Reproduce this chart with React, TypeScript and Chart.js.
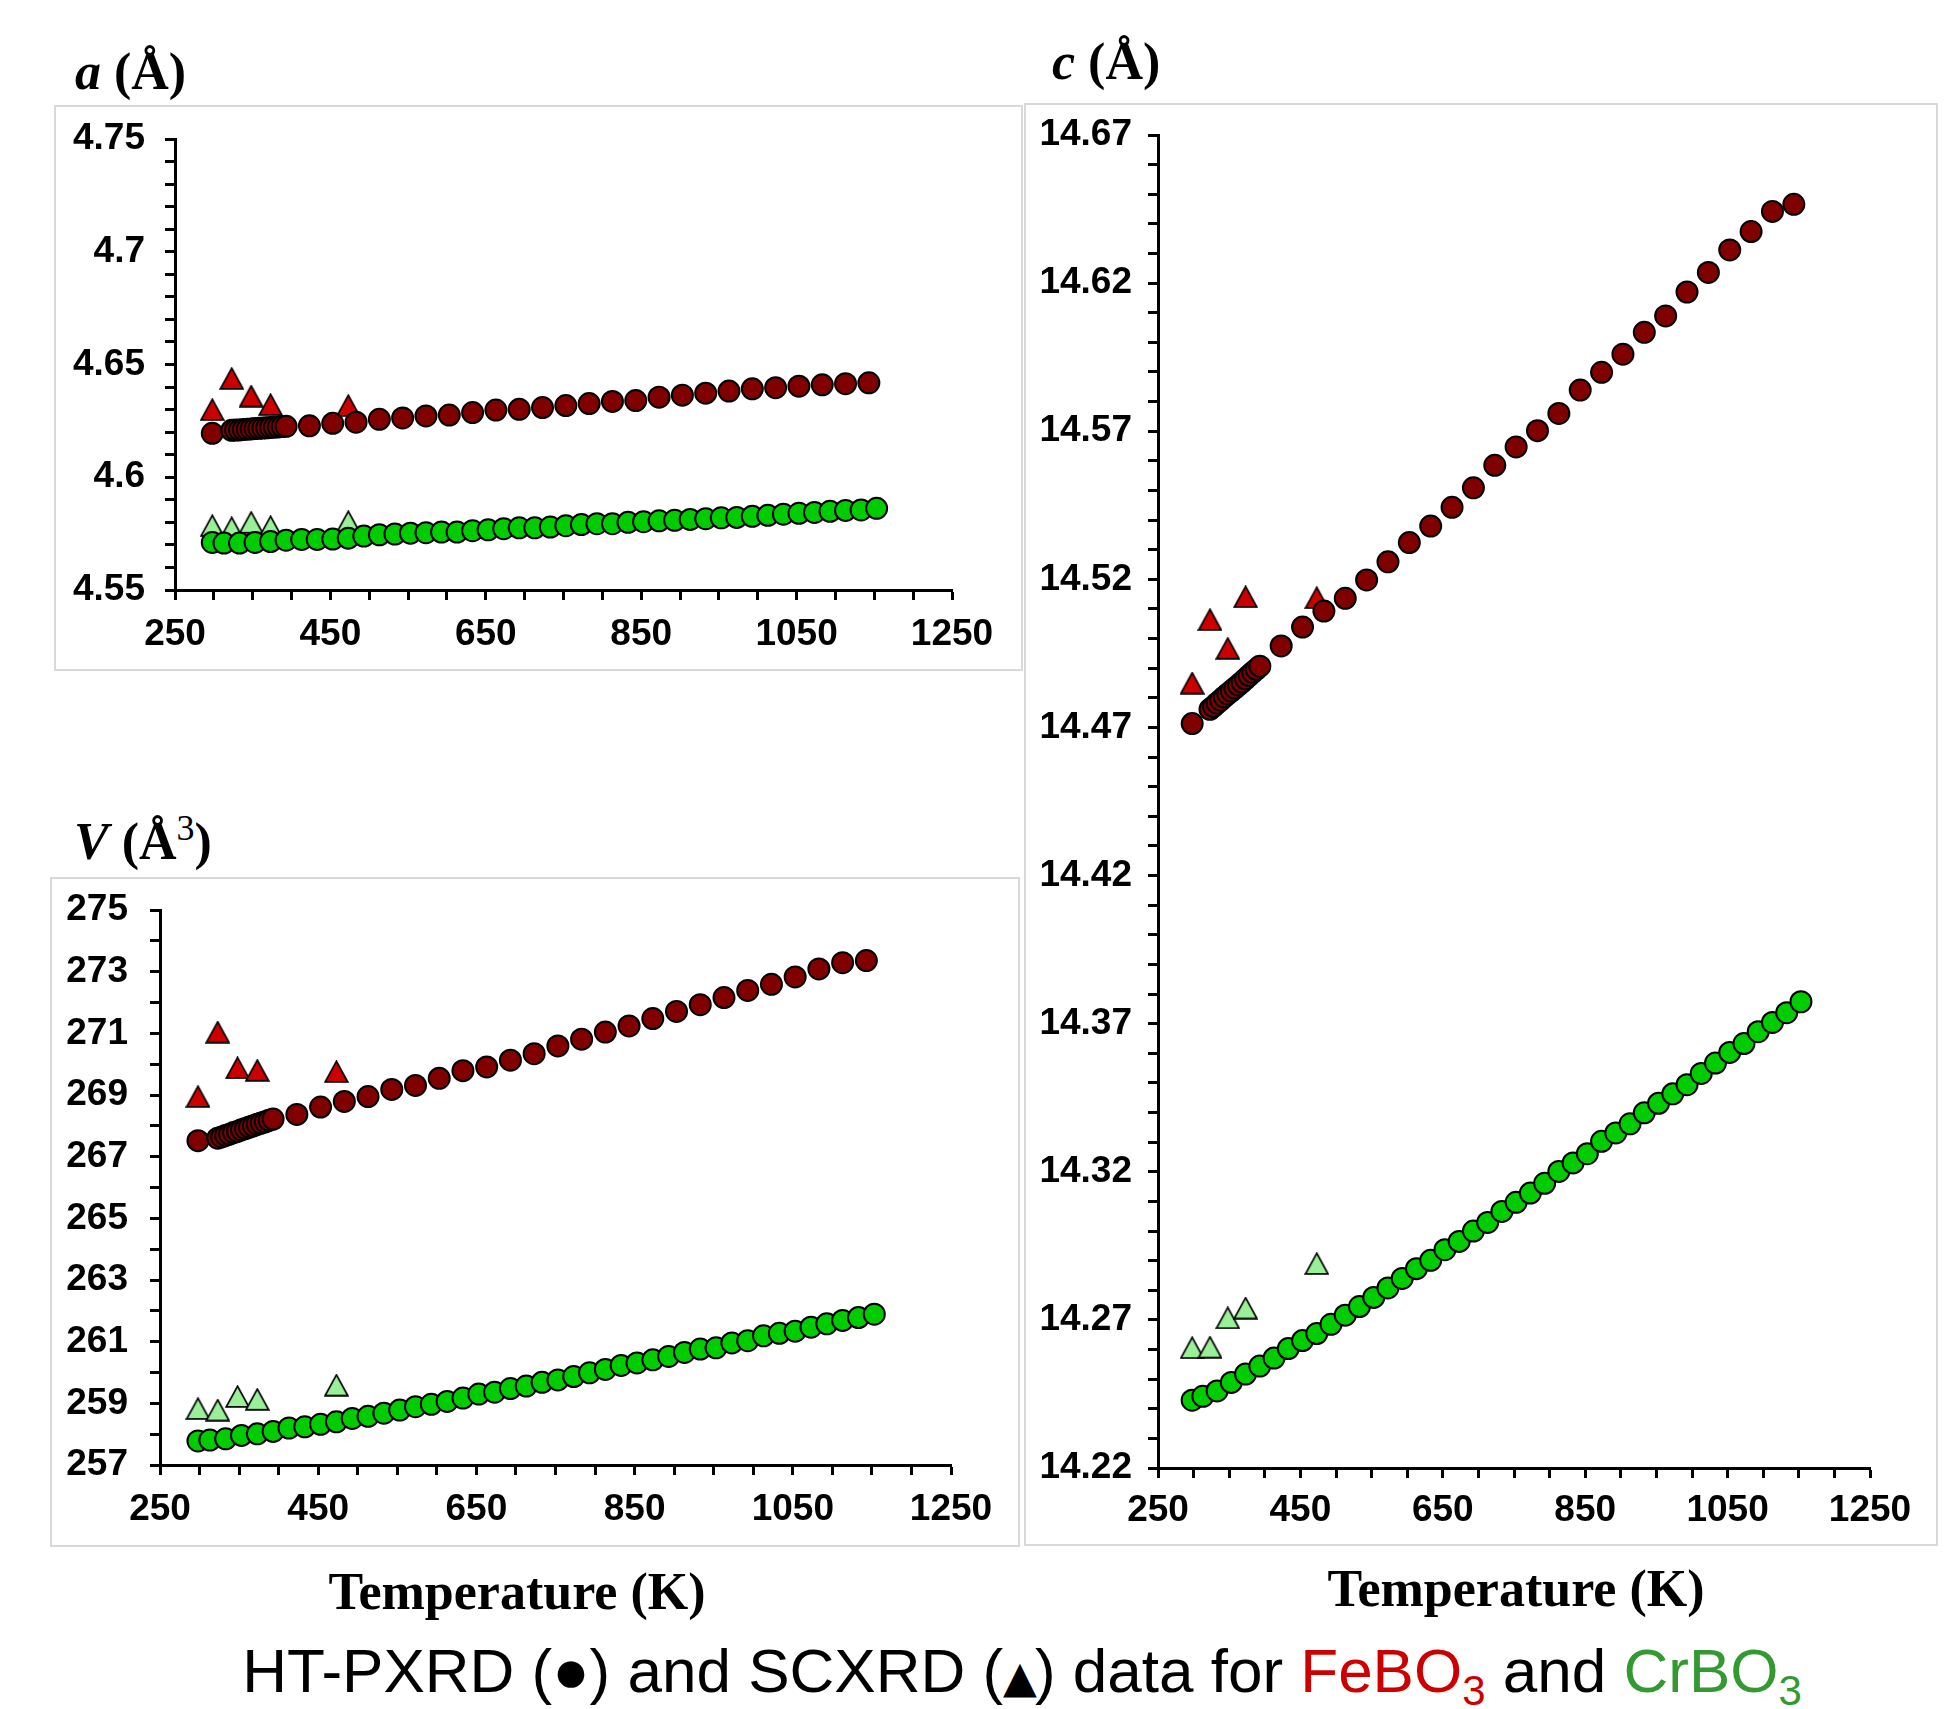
import React, { useEffect, useRef } from 'react';
import { Chart, registerables } from 'chart.js';
Chart.register(...registerables);

// ---------- DATA ----------
// HT-PXRD temperatures (K)
const T_FE = [298, 323, 328, 333, 338, 343, 348, 353, 358, 363, 368, 373, 378, 383, 388, 393,
  423, 453, 483, 513, 543, 573, 603, 633, 663, 693, 723, 753, 783, 813, 843, 873, 903, 933, 963, 993,
  1023, 1053, 1083, 1113, 1143];
const T_CR = [298, 313, 333, 353, 373, 393, 413, 433, 453, 473, 493, 513, 533, 553, 573, 593, 613, 633,
  653, 673, 693, 713, 733, 753, 773, 793, 813, 833, 853, 873, 893, 913, 933, 953, 973, 993, 1013, 1033,
  1053, 1073, 1093, 1113, 1133, 1153];
// SCXRD temperatures (K)
const T_SC = [298, 323, 348, 373, 473];

// a (Å)
const A_FE = [4.6195, 4.6208, 4.6209, 4.6210, 4.6212, 4.6213, 4.6214, 4.6216, 4.6217, 4.6218, 4.6219,
  4.6221, 4.6222, 4.6223, 4.6225, 4.6226, 4.6228, 4.6239, 4.6244, 4.6257, 4.6263, 4.6272, 4.6276, 4.6287,
  4.6298, 4.6301, 4.6309, 4.6318, 4.6327, 4.6336, 4.6340, 4.6355, 4.6364, 4.6373, 4.6382, 4.6392, 4.6397,
  4.6404, 4.6410, 4.6415, 4.6419];
const A_CR = [4.5711, 4.5708, 4.5708, 4.5711, 4.5715, 4.5721, 4.5724, 4.5724, 4.5726, 4.5730, 4.5739,
  4.5745, 4.5748, 4.5752, 4.5754, 4.5757, 4.5757, 4.5763, 4.5767, 4.5772, 4.5776, 4.5776, 4.5779, 4.5785,
  4.5790, 4.5794, 4.5794, 4.5800, 4.5803, 4.5807, 4.5809, 4.5813, 4.5816, 4.5820, 4.5822, 4.5827, 4.5831,
  4.5836, 4.5840, 4.5844, 4.5849, 4.5853, 4.5855, 4.5862];
const A_FE_SC = [4.6300, 4.6438, 4.6360, 4.6322, 4.6318];
const A_CR_SC = [4.5785, 4.5776, 4.5800, 4.5781, 4.5803];

// V (Å3)
const V_FE = [267.52, 267.60, 267.64, 267.69, 267.73, 267.78, 267.82, 267.87, 267.91, 267.96, 268.00,
  268.05, 268.09, 268.13, 268.18, 268.22, 268.37, 268.61, 268.79, 268.95, 269.18, 269.31, 269.54, 269.79,
  269.91, 270.13, 270.34, 270.59, 270.81, 271.04, 271.24, 271.48, 271.71, 271.93, 272.16, 272.39, 272.59,
  272.83, 273.09, 273.29, 273.36];
const V_CR = [257.78, 257.81, 257.85, 257.96, 258.01, 258.09, 258.20, 258.24, 258.32, 258.40, 258.51,
  258.58, 258.68, 258.78, 258.89, 258.97, 259.06, 259.17, 259.30, 259.36, 259.48, 259.56, 259.68, 259.76,
  259.87, 259.99, 260.10, 260.23, 260.31, 260.41, 260.52, 260.65, 260.76, 260.80, 260.96, 261.03, 261.19,
  261.27, 261.34, 261.47, 261.58, 261.69, 261.78, 261.89];
const V_FE_SC = [268.95, 271.04, 269.88, 269.80, 269.76];
const V_CR_SC = [258.83, 258.78, 259.22, 259.13, 259.59];

// c (Å)
const C_FE = [14.4713, 14.4761, 14.4771, 14.4782, 14.4792, 14.4803, 14.4813, 14.4823, 14.4833, 14.4843,
  14.4853, 14.4864, 14.4875, 14.4886, 14.4896, 14.4907, 14.4975, 14.5039, 14.5093, 14.5136, 14.5198,
  14.5259, 14.5324, 14.5380, 14.5443, 14.5509, 14.5585, 14.5647, 14.5702, 14.5760, 14.5839, 14.5899,
  14.5960, 14.6034, 14.6089, 14.6170, 14.6236, 14.6312, 14.6374, 14.6442, 14.6466];
const C_CR = [14.2429, 14.2442, 14.2460, 14.2489, 14.2517, 14.2544, 14.2571, 14.2603, 14.2630, 14.2654,
  14.2685, 14.2716, 14.2745, 14.2776, 14.2808, 14.2840, 14.2873, 14.2901, 14.2937, 14.2965, 14.3000,
  14.3029, 14.3066, 14.3097, 14.3128, 14.3161, 14.3201, 14.3230, 14.3261, 14.3303, 14.3331, 14.3362,
  14.3399, 14.3431, 14.3463, 14.3494, 14.3532, 14.3567, 14.3603, 14.3633, 14.3673, 14.3704, 14.3737,
  14.3774];
const C_FE_SC = [14.4850, 14.5064, 14.4967, 14.5141, 14.5138];
const C_CR_SC = [14.2606, 14.2608, 14.2707, 14.2740, 14.2890];

// tick labels
const X_LABELS = [250, 450, 650, 850, 1050, 1250];
const A_LABELS = [4.55, 4.6, 4.65, 4.7, 4.75];
const V_LABELS = [257, 259, 261, 263, 265, 267, 269, 271, 273, 275];
const C_LABELS = [14.22, 14.27, 14.32, 14.37, 14.42, 14.47, 14.52, 14.57, 14.62, 14.67];

// ---------- STYLE ----------
const FE_CIRCLE = '#800000';
const FE_TRI = '#cc0000';
const CR_CIRCLE = '#00cc00';
const CR_TRI = '#99f099';
const TICK_FONT = '"Liberation Sans", Arial, sans-serif';
const SERIF = '"Liberation Serif", "Times New Roman", serif';

function range(min: number, max: number, step: number): number[] {
  const n = Math.round((max - min) / step);
  const out: number[] = [];
  for (let i = 0; i <= n; i++) out.push(+(min + i * step).toFixed(4));
  return out;
}

function triangleImage(fill: string): HTMLCanvasElement {
  const c = document.createElement('canvas');
  c.width = 25;
  c.height = 23;
  const ctx = c.getContext('2d')!;
  ctx.beginPath();
  ctx.moveTo(12.5, 1.2);
  ctx.lineTo(23.8, 21.8);
  ctx.lineTo(1.2, 21.8);
  ctx.closePath();
  ctx.fillStyle = fill;
  ctx.fill();
  ctx.lineWidth = 1.7;
  ctx.strokeStyle = '#000';
  ctx.lineJoin = 'miter';
  ctx.stroke();
  return c;
}

type PanelProps = {
  left: number; top: number; width: number; height: number;
  area: { l: number; r: number; t: number; b: number };
  yMin: number; yMax: number; yStep: number; yLabels: number[];
  yLabelPad: number; xLabelPad: number;
  fe: number[]; cr: number[]; feSc: number[]; crSc: number[];
  fmt: (v: number) => string;
};

function Panel(p: PanelProps) {
  const ref = useRef<HTMLCanvasElement>(null);
  useEffect(() => {
    const canvas = ref.current!;
    const xTicks = range(250, 1250, 50);
    const yTicks = range(p.yMin, p.yMax, p.yStep);
    const triFe = triangleImage(FE_TRI);
    const triCr = triangleImage(CR_TRI);
    const pts = (xs: number[], ys: number[]) => xs.map((x, i) => ({ x, y: ys[i] }));
    const circle = (color: string) => ({
      pointStyle: 'circle' as const, pointRadius: 10.5, pointBackgroundColor: color,
      pointBorderColor: '#000', pointBorderWidth: 2, showLine: false,
    });
    const chart = new Chart(canvas, {
      type: 'scatter',
      data: {
        datasets: [
          { data: pts(T_FE, p.fe), ...circle(FE_CIRCLE) },
          { data: pts(T_CR, p.cr), ...circle(CR_CIRCLE) },
          { data: pts(T_SC, p.feSc), pointStyle: triFe as any, pointRadius: 11, showLine: false },
          { data: pts(T_SC, p.crSc), pointStyle: triCr as any, pointRadius: 11, showLine: false },
        ],
      },
      options: {
        animation: false,
        responsive: false,
        events: [],
        layout: { padding: { left: 0, top: p.area.t, right: p.width - p.area.r, bottom: 0 } },
        plugins: { legend: { display: false }, tooltip: { enabled: false }, title: { display: false } },
        scales: {
          x: {
            type: 'linear', min: 250, max: 1250,
            afterBuildTicks: (axis: any) => { axis.ticks = xTicks.map((v) => ({ value: v })); },
            afterFit: (s: any) => { s.height = p.height - p.area.b; s.paddingLeft = 0; s.paddingRight = 0; },
            border: { display: true, color: '#000', width: 3 },
            grid: { display: true, drawOnChartArea: false, drawTicks: true, tickLength: 10, tickColor: '#000', tickWidth: 3 },
            ticks: {
              autoSkip: false, maxRotation: 0, minRotation: 0, padding: p.xLabelPad, color: '#000',
              font: { family: TICK_FONT, size: 37, weight: 'bold' },
              callback: (v: any) => (X_LABELS.some((l) => Math.abs(l - v) < 1e-6) ? String(v) : ''),
            },
          },
          y: {
            type: 'linear', min: p.yMin, max: p.yMax,
            afterBuildTicks: (axis: any) => { axis.ticks = yTicks.map((v) => ({ value: v })); },
            afterFit: (s: any) => { s.width = p.area.l; s.paddingTop = 0; s.paddingBottom = 0; },
            border: { display: true, color: '#000', width: 3 },
            grid: { display: true, drawOnChartArea: false, drawTicks: true, tickLength: 10, tickColor: '#000', tickWidth: 3 },
            ticks: {
              autoSkip: false, padding: p.yLabelPad, color: '#000',
              font: { family: TICK_FONT, size: 37, weight: 'bold' },
              callback: (v: any) => {
                const l = p.yLabels.find((q) => Math.abs(q - v) < 1e-6);
                return l === undefined ? '' : p.fmt(l);
              },
            },
          },
        },
      } as any,
    });
    return () => chart.destroy();
  }, []);
  return (
    <>
      <div style={{
        position: 'absolute', left: p.left, top: p.top, width: p.width, height: p.height,
        boxSizing: 'border-box', border: '2px solid #d9d9d9', background: '#fff',
      }} />
      <canvas ref={ref} width={p.width} height={p.height}
        style={{ position: 'absolute', left: p.left, top: p.top, width: p.width, height: p.height }} />
    </>
  );
}

const titleStyle: React.CSSProperties = {
  position: 'absolute', fontFamily: SERIF, fontWeight: 'bold', fontSize: 52, lineHeight: '52px',
  whiteSpace: 'nowrap', color: '#000',
};

export default function App() {
  return (
    <div style={{ position: 'absolute', left: 0, top: 0, width: 1944, height: 1709, background: '#fff', overflow: 'hidden' }}>
      <Panel left={54} top={105} width={969} height={566}
        area={{ l: 121, r: 898, t: 34, b: 485 }}
        yMin={4.55} yMax={4.75} yStep={0.01} yLabels={A_LABELS} yLabelPad={20} xLabelPad={13}
        fe={A_FE} cr={A_CR} feSc={A_FE_SC} crSc={A_CR_SC}
        fmt={(v) => String(v)} />
      <Panel left={50} top={877} width={970} height={670}
        area={{ l: 110, r: 901, t: 33, b: 588 }}
        yMin={257} yMax={275} yStep={1} yLabels={V_LABELS} yLabelPad={22} xLabelPad={13}
        fe={V_FE} cr={V_CR} feSc={V_FE_SC} crSc={V_CR_SC}
        fmt={(v) => String(v)} />
      <Panel left={1024} top={103} width={914} height={1443}
        area={{ l: 134, r: 846, t: 32, b: 1365 }}
        yMin={14.22} yMax={14.67} yStep={0.01} yLabels={C_LABELS} yLabelPad={16} xLabelPad={11}
        fe={C_FE} cr={C_CR} feSc={C_FE_SC} crSc={C_CR_SC}
        fmt={(v) => v.toFixed(2)} />

      <div style={{ ...titleStyle, left: 75, top: 46 }}><i>a</i> (Å)</div>
      <div style={{ ...titleStyle, left: 74, top: 816 }}><i>V</i> (Å<sup style={{ fontSize: 36, fontWeight: 'normal', verticalAlign: 'top', lineHeight: '36px', position: 'relative', top: -6 }}>3</sup>)</div>
      <div style={{ ...titleStyle, left: 1052, top: 36 }}><i>c</i> (Å)</div>

      <div style={{ ...titleStyle, left: 517, top: 1566, transform: 'translateX(-50%)' }}>Temperature (K)</div>
      <div style={{ ...titleStyle, left: 1516, top: 1563, transform: 'translateX(-50%)' }}>Temperature (K)</div>

      <div style={{
        position: 'absolute', left: 1022, top: 1640, transform: 'translateX(-50%)', whiteSpace: 'nowrap',
        fontFamily: '"Liberation Sans", Arial, sans-serif', fontSize: 62, lineHeight: '62px', color: '#000',
      }}>
        HT-PXRD (●) and SCXRD (<span style={{ fontFamily: '"DejaVu Sans", sans-serif', fontSize: 44, letterSpacing: -2 }}>▲</span>) data for{' '}
        <span style={{ color: '#cc0000' }}>FeBO<sub style={{ fontSize: 42, lineHeight: 0 }}>3</sub></span>
        {' '}and{' '}
        <span style={{ color: '#339933' }}>CrBO<sub style={{ fontSize: 42, lineHeight: 0 }}>3</sub></span>
      </div>
    </div>
  );
}
